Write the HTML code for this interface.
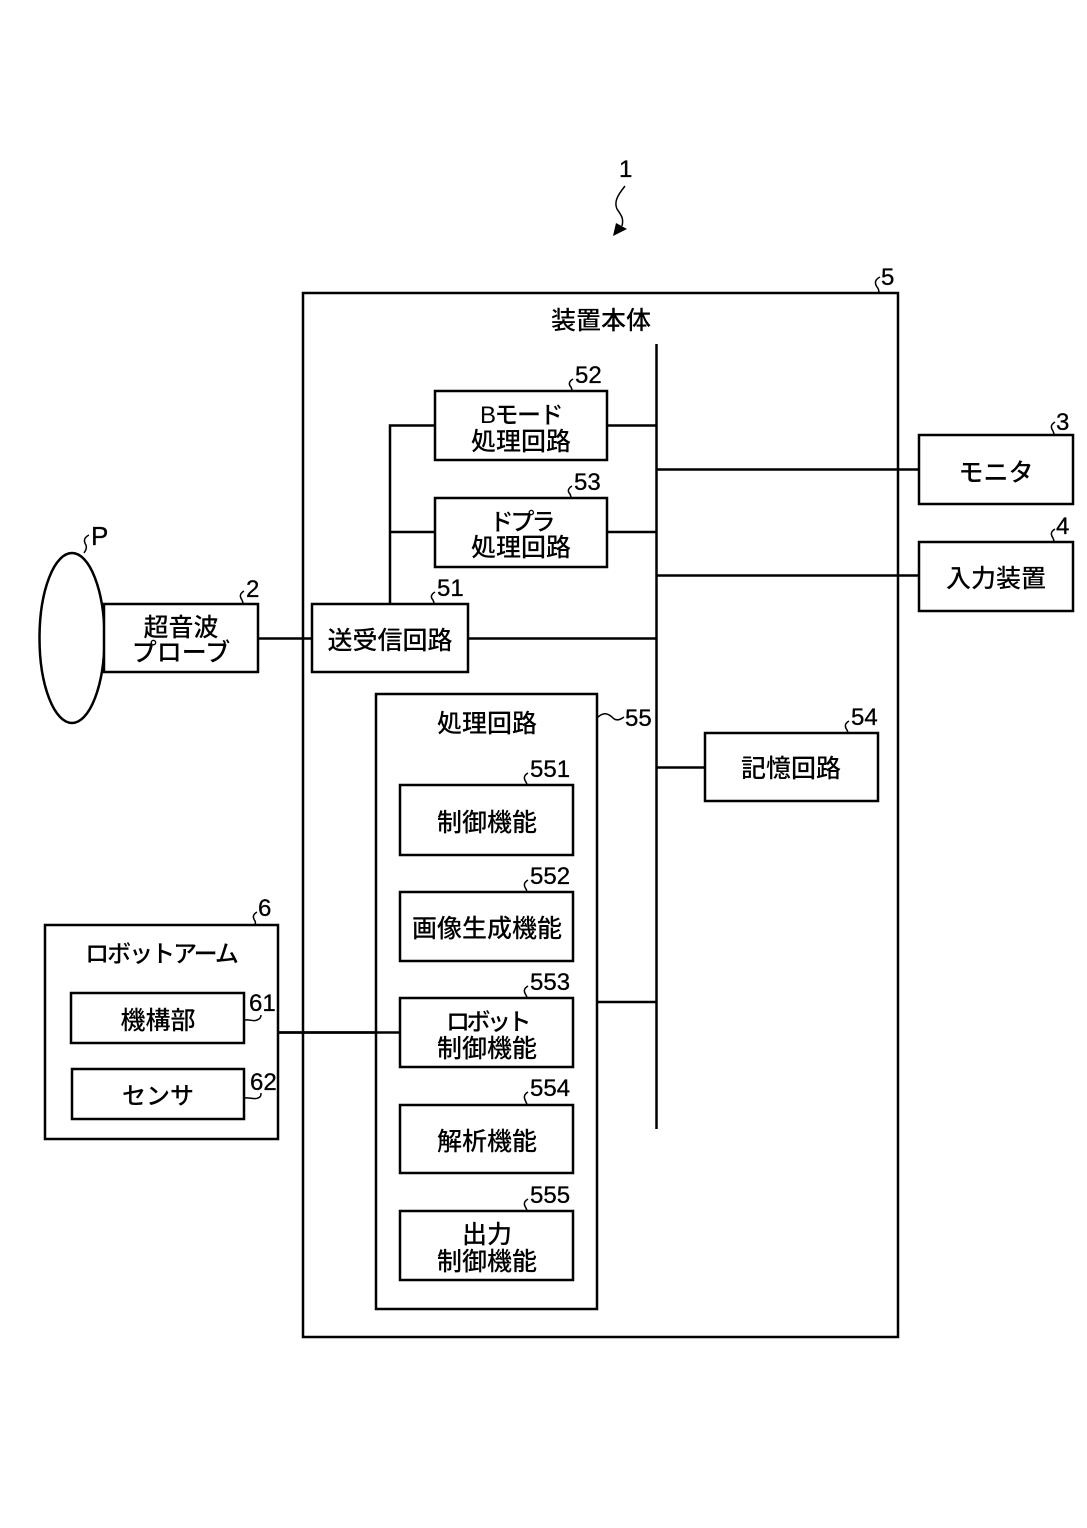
<!DOCTYPE html>
<html lang="ja">
<head>
<meta charset="utf-8">
<style>
html,body{margin:0;padding:0;background:#fff;width:1087px;height:1528px;overflow:hidden}
svg{display:block}
text{font-family:"Liberation Sans","Noto Sans CJK JP",sans-serif;fill:#000}
.j{font-size:25px;text-anchor:middle;font-weight:500}
.n{font-size:24px;stroke:#000;stroke-width:.3}
.b{fill:#fff;stroke:#000;stroke-width:2.5}
.l{fill:none;stroke:#000;stroke-width:2.5}
.s{fill:none;stroke:#000;stroke-width:1.5}
</style>
</head>
<body>
<svg width="1087" height="1528" viewBox="0 0 1087 1528" xmlns="http://www.w3.org/2000/svg">
<rect width="1087" height="1528" fill="#fff"/>

<!-- Main body -->
<rect class="b" x="303" y="293" width="595" height="1044"/>

<!-- Bus and connectors -->
<path class="l" d="M656.500 344V1129"/>
<path class="l" d="M607 425.500H656M607 532H656M468 638.500H656M656 469.500H919M656 575.500H919M656 767.500H705M597 1002H656"/>
<path class="l" d="M390 604V425.500H435M390 532H435"/>
<path class="l" d="M258 638.500H312M278 1032.500H400"/>

<!-- Subject P -->
<ellipse class="l" cx="72" cy="638" rx="32.500" ry="85"/>

<!-- Boxes -->
<rect class="b" x="104" y="604" width="154" height="68"/>
<rect class="b" x="312" y="604" width="156" height="68"/>
<rect class="b" x="435" y="391" width="172" height="69"/>
<rect class="b" x="435" y="498" width="172" height="69"/>
<rect class="b" x="919" y="435" width="154" height="69"/>
<rect class="b" x="919" y="542" width="154" height="69"/>
<rect class="b" x="705" y="733" width="173" height="68"/>
<rect class="b" x="376" y="694" width="221" height="615"/>
<rect class="b" x="400" y="785" width="173" height="70"/>
<rect class="b" x="400" y="892" width="173" height="69"/>
<rect class="b" x="400" y="998" width="173" height="69"/>
<rect class="b" x="400" y="1105" width="173" height="68"/>
<rect class="b" x="400" y="1211" width="173" height="69"/>
<rect class="b" x="45" y="925" width="233" height="214"/>
<rect class="b" x="71" y="993" width="173" height="50"/>
<rect class="b" x="72" y="1069" width="172" height="50"/>
<path class="l" d="M278 1032.500H400"/>

<!-- Japanese labels -->
<text class="j" x="521" y="329" dx="80">装置本体</text>
<text class="j" x="521" y="423" style="font-size:24px;letter-spacing:-1.500px">Bモード</text>
<text class="j" x="521" y="450">処理回路</text>
<text class="j" x="521" y="530" style="font-size:24px;letter-spacing:-3px">ドプラ</text>
<text class="j" x="521" y="556">処理回路</text>
<text class="j" x="181" y="636">超音波</text>
<text class="j" x="181" y="661">プローブ</text>
<text class="j" x="390" y="649">送受信回路</text>
<text class="j" x="996" y="481">モニタ</text>
<text class="j" x="996" y="587">入力装置</text>
<text class="j" x="791" y="777">記憶回路</text>
<text class="j" x="487" y="732">処理回路</text>
<text class="j" x="487" y="831">制御機能</text>
<text class="j" x="487" y="937">画像生成機能</text>
<text class="j" x="487" y="1030" style="font-size:24px;letter-spacing:-3.500px">ロボット</text>
<text class="j" x="487" y="1057">制御機能</text>
<text class="j" x="487" y="1150">解析機能</text>
<text class="j" x="487" y="1243">出力</text>
<text class="j" x="487" y="1270">制御機能</text>
<text class="j" x="161" y="962" style="font-size:24px;letter-spacing:-2px">ロボットアーム</text>
<text class="j" x="158" y="1029">機構部</text>
<text class="j" x="158" y="1104" style="font-size:24px">センサ</text>

<!-- Reference numerals -->
<text class="n" x="619" y="177">1</text>
<text class="n" x="881" y="285">5</text>
<text class="n" x="575" y="383">52</text>
<text class="n" x="574" y="490">53</text>
<text class="n" x="437" y="596">51</text>
<text class="n" x="1056" y="430">3</text>
<text class="n" x="1056" y="534">4</text>
<text class="n" x="851" y="725">54</text>
<text class="n" x="625" y="726">55</text>
<text class="n" x="530" y="777">551</text>
<text class="n" x="530" y="884">552</text>
<text class="n" x="530" y="990">553</text>
<text class="n" x="530" y="1096">554</text>
<text class="n" x="530" y="1203">555</text>
<text class="n" x="246" y="597">2</text>
<text class="n" x="91" y="545" style="font-size:26px">P</text>
<text class="n" x="258" y="916">6</text>
<text class="n" x="249" y="1011">61</text>
<text class="n" x="250" y="1090">62</text>

<!-- Leader squiggles -->
<path class="s" d="M625 186C617 196 614 202 617 209C621 215 624 218 622 226"/>
<path d="M613 236L627 229L616 223Z" fill="#000"/>
<path class="s" d="M880 277C874 280 875 284 877 287C879 289 879 291 879 293"/>
<path class="s" d="M573 379C568 382 569 385 571 387C572 389 572 390 572 391"/>
<path class="s" d="M572 486C567 489 568 492 570 494C571 496 571 497 571 498"/>
<path class="s" d="M435 592C430 595 431 598 433 600C434 602 434 603 434 604"/>
<path class="s" d="M1055 422C1050 425 1051 428 1053 431C1054 433 1054 434 1054 435"/>
<path class="s" d="M1055 529C1050 532 1051 535 1053 538C1054 540 1054 541 1054 542"/>
<path class="s" d="M849 721C844 724 845 727 847 730C848 732 848 733 848 733"/>
<path class="s" d="M597 718C604 711 609 714 613 718C616 721 620 720 624 717"/>
<path class="s" d="M528 773C523 776 524 779 526 782C527 784 527 785 527 785"/>
<path class="s" d="M528 880C523 883 524 886 526 889C527 891 527 892 527 892"/>
<path class="s" d="M528 986C523 989 524 992 526 995C527 997 527 998 527 998"/>
<path class="s" d="M528 1092C523 1095 524 1098 526 1102C527 1104 527 1105 527 1105"/>
<path class="s" d="M528 1199C523 1202 524 1205 526 1208C527 1210 527 1211 527 1211"/>
<path class="s" d="M244 591C239 594 240 597 242 600C243 602 243 603 243 604"/>
<path class="s" d="M89 535C83 538 84 542 86 545C87 548 86 550 84 553"/>
<path class="s" d="M257 912C252 915 253 918 255 921C256 923 255 924 255 925"/>
<path class="s" d="M244 1020C250 1019 254 1022 257 1020C260 1019 261 1017 261 1015"/>
<path class="s" d="M244 1098C250 1097 254 1100 258 1098C261 1097 261 1095 261 1093"/>
</svg>
</body>
</html>
